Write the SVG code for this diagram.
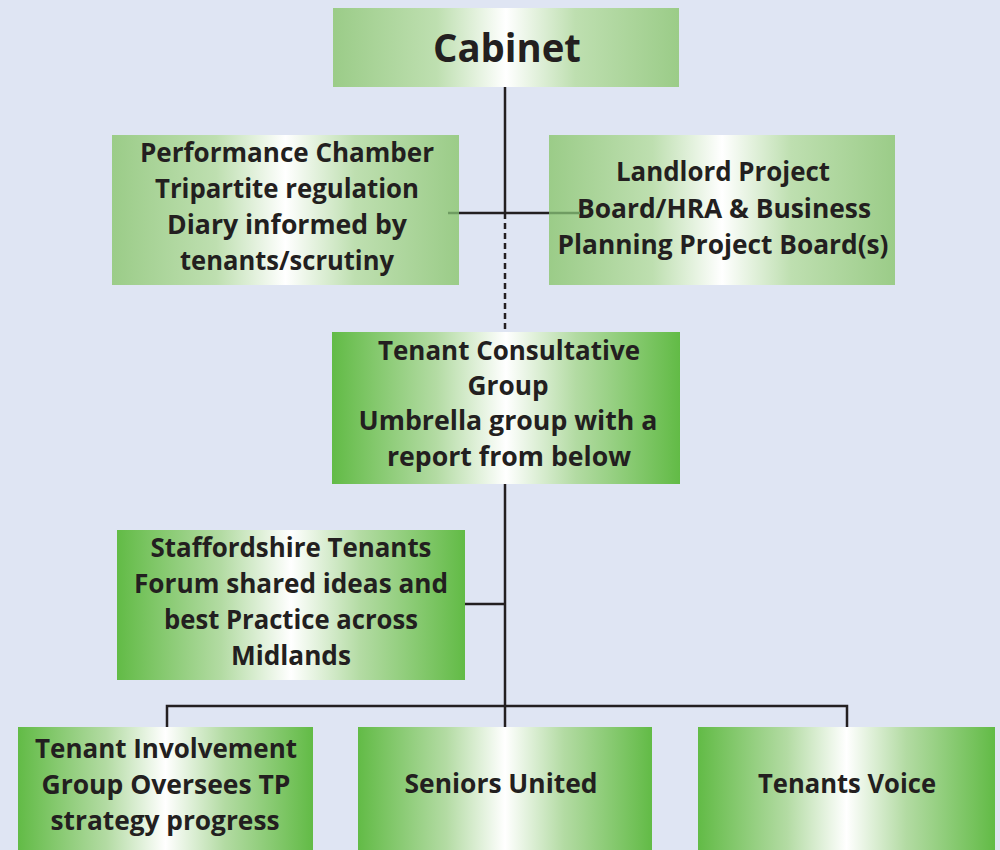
<svg xmlns="http://www.w3.org/2000/svg" width="1000" height="850" viewBox="0 0 1000 850">
<defs>
<linearGradient id="gLight" x1="0" y1="0" x2="1" y2="0">
<stop offset="0" stop-color="#9bcc88"/>
<stop offset="0.3" stop-color="#bedfb0"/>
<stop offset="0.5" stop-color="#ffffff"/>
<stop offset="0.7" stop-color="#bedfb0"/>
<stop offset="1" stop-color="#9bcc88"/>
</linearGradient>
<linearGradient id="gDark" x1="0" y1="0" x2="1" y2="0">
<stop offset="0" stop-color="#62bb46"/>
<stop offset="0.3" stop-color="#b3dba3"/>
<stop offset="0.5" stop-color="#ffffff"/>
<stop offset="0.7" stop-color="#b3dba3"/>
<stop offset="1" stop-color="#62bb46"/>
</linearGradient>
<style>
.t{font-family:"Open Sans","Liberation Sans",sans-serif;font-weight:bold;font-size:26px;fill:#231f20;text-anchor:middle}
.ln{stroke:#231f20;stroke-width:2.5;fill:none}
.lnG{stroke:#6f9c62;stroke-width:2.5;fill:none}
</style>
</defs>
<rect width="1000" height="850" fill="#dfe5f3"/>
<g id="connectors">
<line class="ln" x1="505" y1="87" x2="505" y2="213"/>
<line class="ln" x1="505" y1="213" x2="505" y2="332" stroke-dasharray="6,4"/>
<line class="ln" x1="505" y1="484" x2="505" y2="727"/>
<line class="ln" x1="465" y1="604" x2="505" y2="604"/>
<polyline class="ln" points="167,727 167,706 847,706 847,727"/>
</g>
<g id="cabinet">
<rect x="333" y="8" width="346" height="79" fill="url(#gLight)"/>
<text class="t" x="507" y="62" style="font-size:40px" textLength="148" lengthAdjust="spacingAndGlyphs">Cabinet</text>
</g>
<g id="performance">
<rect x="112" y="135" width="347" height="150" fill="url(#gLight)"/>
<text class="t" x="287" y="162" textLength="294" lengthAdjust="spacingAndGlyphs">Performance Chamber</text>
<text class="t" x="287" y="198" textLength="264" lengthAdjust="spacingAndGlyphs">Tripartite regulation</text>
<text class="t" x="287" y="234" textLength="240" lengthAdjust="spacingAndGlyphs">Diary informed by</text>
<text class="t" x="287" y="270" textLength="214" lengthAdjust="spacingAndGlyphs">tenants/scrutiny</text>
</g>
<g id="landlord">
<rect x="549" y="135" width="346" height="150" fill="url(#gLight)"/>
<text class="t" x="723" y="181" textLength="214" lengthAdjust="spacingAndGlyphs">Landlord Project</text>
<text class="t" x="724" y="218" textLength="294" lengthAdjust="spacingAndGlyphs">Board/HRA &amp; Business</text>
<text class="t" x="723" y="254" textLength="331" lengthAdjust="spacingAndGlyphs">Planning Project Board(s)</text>
</g>
<g id="cross-link">
<line class="lnG" x1="448" y1="213" x2="459" y2="213"/>
<line class="ln" x1="459" y1="213" x2="549" y2="213"/>
<line class="lnG" x1="549" y1="213" x2="580" y2="213"/>
</g>
<g id="tcg">
<rect x="332" y="332" width="348" height="152" fill="url(#gDark)"/>
<text class="t" x="509" y="360" textLength="262" lengthAdjust="spacingAndGlyphs">Tenant Consultative</text>
<text class="t" x="508" y="395" textLength="81" lengthAdjust="spacingAndGlyphs">Group</text>
<text class="t" x="508" y="430" textLength="299" lengthAdjust="spacingAndGlyphs">Umbrella group with a</text>
<text class="t" x="509" y="466" textLength="244" lengthAdjust="spacingAndGlyphs">report from below</text>
</g>
<g id="staffordshire">
<rect x="117" y="530" width="348" height="150" fill="url(#gDark)"/>
<text class="t" x="291" y="557" textLength="281" lengthAdjust="spacingAndGlyphs">Staffordshire Tenants</text>
<text class="t" x="291" y="593" textLength="314" lengthAdjust="spacingAndGlyphs">Forum shared ideas and</text>
<text class="t" x="291" y="629" textLength="254" lengthAdjust="spacingAndGlyphs">best Practice across</text>
<text class="t" x="291" y="665" textLength="120" lengthAdjust="spacingAndGlyphs">Midlands</text>
</g>
<g id="tenant-involvement">
<rect x="18" y="727" width="295" height="123" fill="url(#gDark)"/>
<text class="t" x="166" y="758" textLength="262" lengthAdjust="spacingAndGlyphs">Tenant Involvement</text>
<text class="t" x="166" y="794" textLength="249" lengthAdjust="spacingAndGlyphs">Group Oversees TP</text>
<text class="t" x="165" y="830" textLength="229" lengthAdjust="spacingAndGlyphs">strategy progress</text>
</g>
<g id="seniors-united">
<rect x="358" y="727" width="294" height="123" fill="url(#gDark)"/>
<text class="t" x="501" y="793" textLength="193" lengthAdjust="spacingAndGlyphs">Seniors United</text>
</g>
<g id="tenants-voice">
<rect x="698" y="727" width="297" height="123" fill="url(#gDark)"/>
<text class="t" x="847" y="793" textLength="178" lengthAdjust="spacingAndGlyphs">Tenants Voice</text>
</g>
</svg>
